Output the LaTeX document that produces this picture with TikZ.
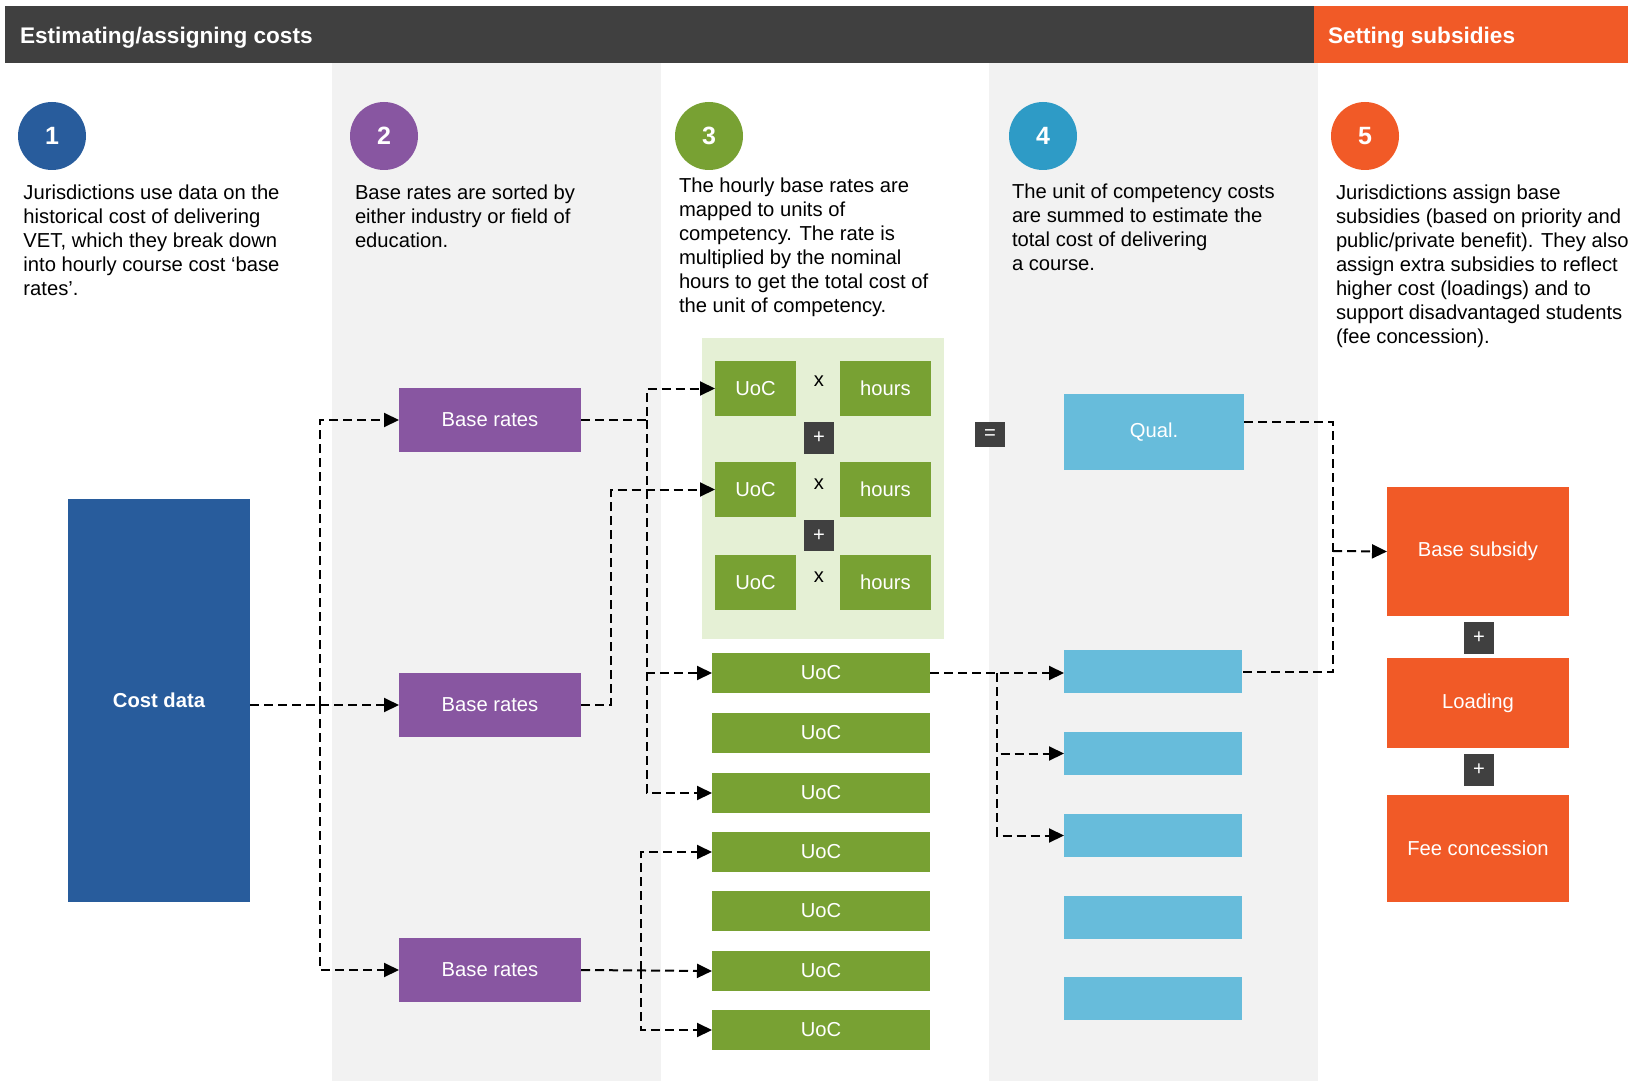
\documentclass[tikz,border=0pt]{standalone}
\usepackage{fontspec}
\setmainfont{Liberation Sans}
\usetikzlibrary{arrows.meta,calc}
\definecolor{hdr}{HTML}{404040}
\definecolor{orng}{HTML}{F15A27}
\definecolor{dblue}{HTML}{285C9C}
\definecolor{purp}{HTML}{8856A1}
\definecolor{grn}{HTML}{78A133}
\definecolor{lgrn}{HTML}{E5F0D5}
\definecolor{lblue}{HTML}{67BCDB}
\definecolor{cblue}{HTML}{2E9BC6}
\definecolor{colgray}{HTML}{F2F2F2}
\newcommand\bodyf{\fontsize{10.1}{12}\selectfont}
\newcommand\numf{\bfseries\fontsize{12.5}{14}\selectfont}
\begin{document}
\begin{tikzpicture}[x=0.5pt,y=-0.5pt,
  every node/.style={inner sep=0pt, outer sep=0pt},
  fbox/.style={fill=#1, text=white, font=\bodyf},
  sz/.style 2 args={minimum width=#1, minimum height=#2},
  opbox/.style={fill=hdr, text=white, font=\bodyf},
  numc/.style={circle, fill=#1, text=white, minimum size=34pt, font=\numf},
  desc/.style={anchor=north west, align=left, font=\bodyf, text=black},
  dline/.style={draw=black, line width=1pt, dash pattern=on 4.5pt off 2.5pt},
  conn/.style={dline, -{Triangle[length=7.5pt,width=7pt]}}]
\useasboundingbox (0,0) rectangle (1628,1081);
\fill[white] (0,0) rectangle (1628,1081);
% column backgrounds
\fill[colgray] (332,63) rectangle (661,1081);
\fill[colgray] (989,63) rectangle (1318,1081);
% header
\fill[hdr] (5,6) rectangle (1314,63);
\fill[orng] (1314,6) rectangle (1628,63);
\node[anchor=west, text=white, font=\bfseries\fontsize{11.3}{13}\selectfont] (h1) at (20,37.5) {Estimating/assigning costs};
\node[anchor=west, text=white, font=\bfseries\fontsize{11.3}{13}\selectfont] (h2) at (1328,37.5) {Setting subsidies};
% circles
\node[numc=dblue] (n1) at (52,136) {1};
\node[numc=purp] (n2) at (384,136) {2};
\node[numc=grn] (n3) at (709,136) {3};
\node[numc=cblue] (n4) at (1043,136) {4};
\node[numc=orng] (n5) at (1365,136) {5};
% descriptions
\node[desc] (t1) at (23.5,185) {Jurisdictions use data on the\\historical cost of delivering\\VET, which they break down\\into hourly course cost ‘base\\rates’.};
\node[desc] (t2) at (355,185) {Base rates are sorted by\\either industry or field of\\education.};
\node[desc] (t3) at (679,178) {The hourly base rates are\\mapped to units of\\competency. The rate is\\multiplied by the nominal\\hours to get the total cost of\\the unit of competency.};
\node[desc] (t4) at (1012,184) {The unit of competency costs\\are summed to estimate the\\total cost of delivering\\a course.};
\node[desc] (t5) at (1336,185) {Jurisdictions assign base\\subsidies (based on priority and\\public/private benefit). They also\\assign extra subsidies to reflect\\higher cost (loadings) and to\\support disadvantaged students\\(fee concession).};
% column 1
\node[fbox=dblue, font=\bfseries\bodyf, sz={91pt}{201.5pt}] (cost) at (159,700.5) {Cost data};
% column 2
\node[fbox=purp, sz={91pt}{32pt}] (p1) at (490,420) {Base rates};
\node[fbox=purp, sz={91pt}{32pt}] (p2) at (490,705) {Base rates};
\node[fbox=purp, sz={91pt}{32pt}] (p3) at (490,970) {Base rates};
% column 3
\fill[lgrn] (702,338) rectangle (944,639);
\node[fbox=grn, sz={40.5pt}{27.5pt}] (u1) at (755.5,388.5) {UoC};
\node[fbox=grn, sz={45.5pt}{27.5pt}] (hr1) at (885.5,388.5) {hours};
\node[fbox=grn, sz={40.5pt}{27.5pt}] (u2) at (755.5,489.5) {UoC};
\node[fbox=grn, sz={45.5pt}{27.5pt}] (hr2) at (885.5,489.5) {hours};
\node[fbox=grn, sz={40.5pt}{27.5pt}] (u3) at (755.5,582.5) {UoC};
\node[fbox=grn, sz={45.5pt}{27.5pt}] (hr3) at (885.5,582.5) {hours};
\node[font=\bodyf] (x1) at (819,381) {x};
\node[font=\bodyf] (x2) at (819,484) {x};
\node[font=\bodyf] (x3) at (819,577) {x};
\node[opbox, sz={15pt}{16pt}] (pa) at (819,438) {+};
\node[opbox, sz={15pt}{15.5pt}] (pb) at (819,535.5) {+};
\node[fbox=grn, sz={109pt}{20pt}] (g1) at (821,673) {UoC};
\node[fbox=grn, sz={109pt}{20pt}] (g2) at (821,733) {UoC};
\node[fbox=grn, sz={109pt}{20pt}] (g3) at (821,793) {UoC};
\node[fbox=grn, sz={109pt}{20pt}] (g4) at (821,852) {UoC};
\node[fbox=grn, sz={109pt}{20pt}] (g5) at (821,911) {UoC};
\node[fbox=grn, sz={109pt}{20pt}] (g6) at (821,971) {UoC};
\node[fbox=grn, sz={109pt}{20pt}] (g7) at (821,1030) {UoC};
% column 4
\node[opbox, sz={15pt}{12.5pt}] (eq) at (990,434.5) {=};
\node[fbox=lblue, sz={90pt}{38pt}] (q) at (1154,432) {Qual.};
\node[fbox=lblue, sz={89pt}{21.5pt}] (b1) at (1153,671.5) {};
\node[fbox=lblue, sz={89pt}{21.5pt}] (b2) at (1153,753.5) {};
\node[fbox=lblue, sz={89pt}{21.5pt}] (b3) at (1153,835.5) {};
\node[fbox=lblue, sz={89pt}{21.5pt}] (b4) at (1153,917.5) {};
\node[fbox=lblue, sz={89pt}{21.5pt}] (b5) at (1153,998.5) {};
% column 5
\node[fbox=orng, sz={91pt}{64.5pt}] (bs) at (1478,551.5) {Base subsidy};
\node[opbox, sz={15pt}{16pt}] (pc) at (1479,638) {+};
\node[fbox=orng, sz={91pt}{45pt}] (ld) at (1478,703) {Loading};
\node[opbox, sz={15pt}{16pt}] (pd) at (1479,770) {+};
\node[fbox=orng, sz={91pt}{53.5pt}] (fc) at (1478,848.5) {Fee concession};
% connectors
\coordinate (j1) at (320,705);
\draw[conn] (cost.east |- p2.west) -- (p2.west);
\draw[conn] (j1) |- (p1.west);
\draw[conn] (j1) |- (p3.west);
\coordinate (k1) at (647,420);
\draw[conn] (p1.east) -- (k1) |- (u1.west);
\draw[conn] (k1) |- (g1.west);
\draw[conn] (k1) |- (g3.west);
\coordinate (k2) at (611,705);
\draw[conn] (p2.east) -- (k2) |- (u2.west);
\coordinate (k3) at (641,970);
\draw[conn] (p3.east) -- (g6.west);
\draw[conn] (k3) |- (g4.west);
\draw[conn] (k3) |- (g7.west);
\coordinate (k4) at (997,673);
\draw[conn] (g1.east) -- (g1.east -| b1.west);
\draw[conn] (k4) |- (b2.west);
\draw[conn] (k4) |- (b3.west);
\coordinate (r1) at (1333,551);
\draw[dline] ([yshift=5pt]q.east) -| (r1) |- (b1.east);
\draw[conn] (r1) -- (bs.west);
\end{tikzpicture}
\end{document}
